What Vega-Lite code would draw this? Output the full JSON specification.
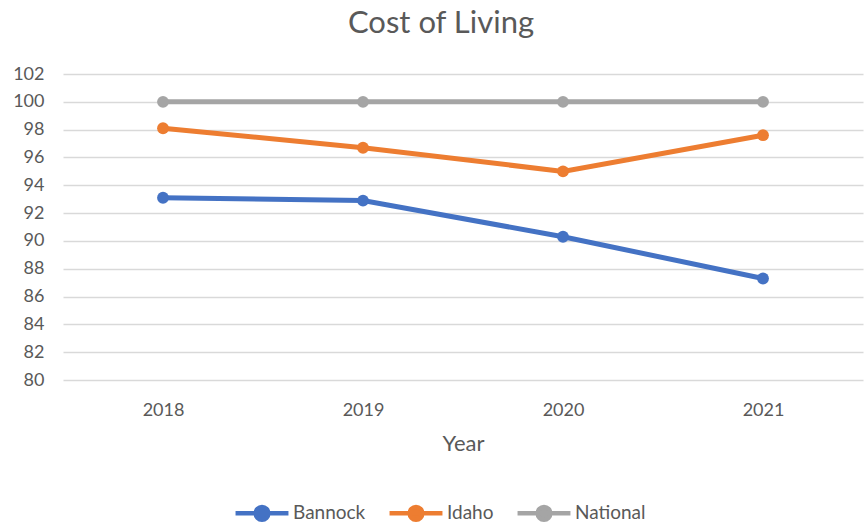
{
  "$schema": "https://vega.github.io/schema/vega-lite/v6.json",
  "autosize": "none",
  "padding": {"left": 63, "top": 74, "right": 3, "bottom": 143},
  "width": 800,
  "height": 306,
  "background": "white",
  "title": {"text": "Cost of Living", "fontSize": 31, "font": "Lato", "fontWeight": "normal", "color": "#595959", "offset": 25, "dx": -22},
  "data": {"values": [
    {"year": "2018", "series": "Bannock", "value": 93.1},
    {"year": "2019", "series": "Bannock", "value": 92.9},
    {"year": "2020", "series": "Bannock", "value": 90.3},
    {"year": "2021", "series": "Bannock", "value": 87.3},
    {"year": "2018", "series": "Idaho", "value": 98.1},
    {"year": "2019", "series": "Idaho", "value": 96.7},
    {"year": "2020", "series": "Idaho", "value": 95.0},
    {"year": "2021", "series": "Idaho", "value": 97.6},
    {"year": "2018", "series": "National", "value": 100},
    {"year": "2019", "series": "National", "value": 100},
    {"year": "2020", "series": "National", "value": 100},
    {"year": "2021", "series": "National", "value": 100}
  ]},
  "encoding": {
    "x": {"field": "year", "type": "ordinal", "scale": {"type": "point", "padding": 0.5},
      "axis": {"title": "Year", "labelAngle": 0, "grid": false, "ticks": false, "domain": false, "labelFontSize": 18, "labelFont": "Lato", "labelColor": "#595959", "labelPadding": 21, "titleFontSize": 22, "titleFont": "Lato", "titleFontWeight": "normal", "titleColor": "#595959", "titlePadding": 14}},
    "y": {"field": "value", "type": "quantitative", "scale": {"domain": [80, 102], "nice": false, "zero": false},
      "axis": {"title": null, "values": [80, 82, 84, 86, 88, 90, 92, 94, 96, 98, 100, 102], "grid": true, "gridColor": "#D9D9D9", "gridWidth": 1.5, "ticks": false, "domain": false, "labelFontSize": 18, "labelFont": "Lato", "labelColor": "#595959", "labelPadding": 19}},
    "color": {"field": "series", "type": "nominal", "title": null,
      "scale": {"domain": ["Bannock", "Idaho", "National"], "range": ["#4472C4", "#ED7D31", "#A5A5A5"]},
      "legend": {"orient": "none", "direction": "horizontal", "legendX": 170, "legendY": 410,
        "symbolType": "M-1,0L1,0M-0.24,0a0.24,0.24 0 1,0 0.48,0a0.24,0.24 0 1,0 -0.48,0Z",
        "symbolSize": 2800, "symbolStrokeWidth": 4.5, "symbolOpacity": 1,
        "labelFontSize": 19, "labelFont": "Lato", "labelColor": "#595959", "labelOffset": 2, "columnPadding": 14}}
  },
  "layer": [
    {"mark": {"type": "line", "strokeWidth": 5}},
    {"mark": {"type": "point", "filled": true, "size": 140, "opacity": 1}}
  ],
  "config": {"view": {"stroke": null}}
}
